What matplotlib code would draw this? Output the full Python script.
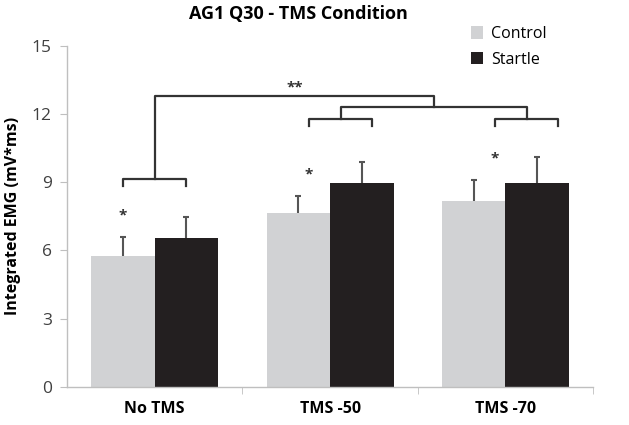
import matplotlib.pyplot as plt
import numpy as np

plt.rcParams['font.family'] = ['Open Sans', 'DejaVu Sans']

# values
conditions = ["No TMS", "TMS -50", "TMS -70"]
control = [5.76, 7.62, 8.16]
startle = [6.55, 8.95, 8.95]
control_err = [0.84, 0.77, 0.92]
startle_err = [0.90, 0.94, 1.14]
yticks = [0, 3, 6, 9, 12, 15]

x = np.arange(len(conditions))
w = 0.362

fig = plt.figure(figsize=(6.29, 4.25), dpi=100)
ax = fig.add_axes([0.1065, 0.090, 0.8365, 0.8025])

ax.bar(x - w / 2, control, w, color='#d1d2d4', label='Control', zorder=2)
ax.bar(x + w / 2, startle, w, color='#231f20', label='Startle', zorder=2)
for xs, vals, errs in [(x - w / 2, control, control_err), (x + w / 2, startle, startle_err)]:
    eb = ax.errorbar(xs, vals, yerr=[np.zeros(3), errs], fmt='none',
                     ecolor='#555555', elinewidth=1.5, capsize=2.5, capthick=1.5, zorder=3)
    eb[1][0].set_visible(False)  # hide cap at the bar top

# significance brackets (hand-drawn in the original, slightly shifted right)
shift = [0.0, 0.06, 0.12]
lc = '#333333'
lw = 1.6
mids = []
for i, s in enumerate(shift):
    x0 = x[i] - w / 2 + s
    x1 = x[i] + w / 2 + s
    top = 9.15 if i == 0 else 11.76
    ax.plot([x0, x0, x1, x1], [top - 0.3, top, top, top - 0.3], color=lc, lw=lw)
    mids.append(((x0 + x1) / 2, top))
    # star above control bar
    ax.text(x0, control[i] + control_err[i] + 0.95, '*', ha='center', va='center',
            fontsize=11, fontweight='bold', color='#333333')

# second level joining TMS -50 and TMS -70
y2 = 12.29
ax.plot([mids[1][0], mids[1][0], mids[2][0], mids[2][0]],
        [mids[1][1], y2, y2, mids[2][1]], color=lc, lw=lw)
m2 = (mids[1][0] + mids[2][0]) / 2
# top level
y3 = 12.8
ax.plot([mids[0][0], mids[0][0], m2, m2], [mids[0][1], y3, y3, y2], color=lc, lw=lw)
ax.text(0.8, y3 + 0.05, '**', ha='center', va='bottom', fontsize=11,
        fontweight='bold', color='#333333')

ax.set_xlim(-0.5, 2.5)
ax.set_ylim(0, 15)
ax.set_yticks(yticks)
ax.set_xticks(x)
ax.set_xticklabels(conditions, fontweight='bold', fontsize=11.5)
ax.set_xticks([0.5, 1.5, 2.5], minor=True)
ax.tick_params(axis='x', which='major', length=0, pad=10)
ax.tick_params(axis='x', which='minor', length=5, color='#bfbfbf')
ax.tick_params(axis='y', length=5, color='#bfbfbf', labelsize=12.5, labelcolor='#404040', pad=6)
for sp in ['top', 'right']:
    ax.spines[sp].set_visible(False)
for sp in ['left', 'bottom']:
    ax.spines[sp].set_color('#bfbfbf')
    ax.spines[sp].set_linewidth(1.0)

ax.set_ylabel('Integrated EMG (mV*ms)', fontweight='bold', fontsize=11.5, labelpad=8)
fig.text(0.475, 0.967, 'AG1 Q30 - TMS Condition', ha='center', va='center',
         fontweight='bold', fontsize=13)

ax.legend(loc='upper left', bbox_to_anchor=(0.74, 1.10), frameon=False, fontsize=11.5,
          handlelength=0.8, handleheight=0.8, handletextpad=0.5, labelspacing=0.6)

fig.savefig('out.png', dpi=100)
